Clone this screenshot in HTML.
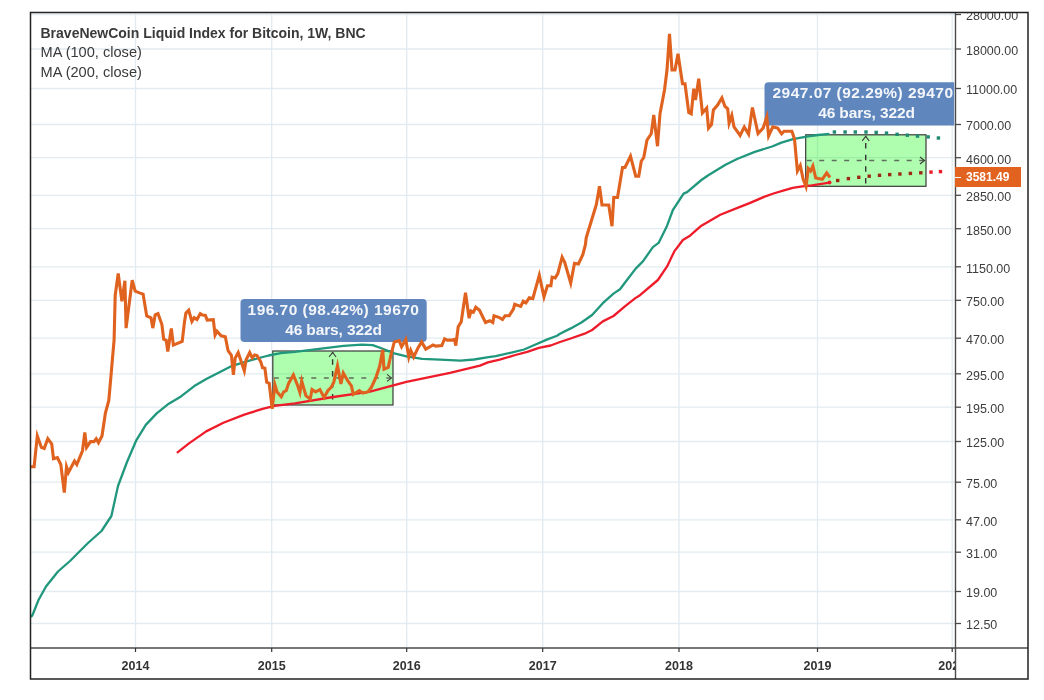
<!DOCTYPE html>
<html><head><meta charset="utf-8"><style>
html,body{margin:0;padding:0;background:#fff;width:1044px;height:700px;overflow:hidden;}
#w{position:relative;width:1044px;height:700px;}
svg{position:absolute;left:0;top:0;}
.pl{position:absolute;left:966px;font:12.5px "Liberation Sans",sans-serif;color:#3d3d3d;line-height:16px;white-space:nowrap;}
#pclip{position:absolute;left:956px;top:13px;width:72px;height:634px;overflow:hidden;}
#pclip .pl{left:10px;}
#yclip{position:absolute;left:31px;top:649px;width:924px;height:29px;overflow:hidden;}
.yl{position:absolute;top:8.5px;width:60px;text-align:center;font:bold 12.5px "Liberation Sans",sans-serif;color:#333;line-height:16px;}
.leg{position:absolute;left:40.5px;font:14.6px "Liberation Sans",sans-serif;color:#3a3a3a;white-space:nowrap;line-height:18px;}
.bl{position:absolute;font:bold 15.5px "Liberation Sans",sans-serif;color:#f4f6fa;white-space:nowrap;text-align:center;line-height:18px;}
#tag{position:absolute;left:955px;top:167px;width:66px;height:20px;background:#e2621f;}
#tag span{position:absolute;left:11px;top:2px;font:bold 12px "Liberation Sans",sans-serif;color:#fff;line-height:16px;}
#tag i{position:absolute;left:0;top:9.5px;width:6px;height:1.3px;background:#fff;}
</style></head><body><div id="w" style="will-change:transform">
<svg width="1044" height="700" viewBox="0 0 1044 700">
<defs><clipPath id="pane"><rect x="31" y="13" width="924" height="635"/></clipPath><clipPath id="lbl2"><rect x="700" y="13" width="254.2" height="200"/></clipPath></defs>
<line x1="31" y1="14.5" x2="955" y2="14.5" stroke="#e1ebf1" stroke-width="1.3"/>
<line x1="31" y1="49.0" x2="955" y2="49.0" stroke="#e1ebf1" stroke-width="1.3"/>
<line x1="31" y1="88.5" x2="955" y2="88.5" stroke="#e1ebf1" stroke-width="1.3"/>
<line x1="31" y1="124.5" x2="955" y2="124.5" stroke="#e1ebf1" stroke-width="1.3"/>
<line x1="31" y1="157.7" x2="955" y2="157.7" stroke="#e1ebf1" stroke-width="1.3"/>
<line x1="31" y1="195.3" x2="955" y2="195.3" stroke="#e1ebf1" stroke-width="1.3"/>
<line x1="31" y1="228.7" x2="955" y2="228.7" stroke="#e1ebf1" stroke-width="1.3"/>
<line x1="31" y1="266.8" x2="955" y2="266.8" stroke="#e1ebf1" stroke-width="1.3"/>
<line x1="31" y1="300.3" x2="955" y2="300.3" stroke="#e1ebf1" stroke-width="1.3"/>
<line x1="31" y1="338.2" x2="955" y2="338.2" stroke="#e1ebf1" stroke-width="1.3"/>
<line x1="31" y1="373.8" x2="955" y2="373.8" stroke="#e1ebf1" stroke-width="1.3"/>
<line x1="31" y1="407.2" x2="955" y2="407.2" stroke="#e1ebf1" stroke-width="1.3"/>
<line x1="31" y1="441.5" x2="955" y2="441.5" stroke="#e1ebf1" stroke-width="1.3"/>
<line x1="31" y1="482.2" x2="955" y2="482.2" stroke="#e1ebf1" stroke-width="1.3"/>
<line x1="31" y1="519.8" x2="955" y2="519.8" stroke="#e1ebf1" stroke-width="1.3"/>
<line x1="31" y1="552.2" x2="955" y2="552.2" stroke="#e1ebf1" stroke-width="1.3"/>
<line x1="31" y1="591.5" x2="955" y2="591.5" stroke="#e1ebf1" stroke-width="1.3"/>
<line x1="31" y1="623.5" x2="955" y2="623.5" stroke="#e1ebf1" stroke-width="1.3"/>
<line x1="135.5" y1="13" x2="135.5" y2="647" stroke="#e1ebf1" stroke-width="1.3"/>
<line x1="271.7" y1="13" x2="271.7" y2="647" stroke="#e1ebf1" stroke-width="1.3"/>
<line x1="406.7" y1="13" x2="406.7" y2="647" stroke="#e1ebf1" stroke-width="1.3"/>
<line x1="542.7" y1="13" x2="542.7" y2="647" stroke="#e1ebf1" stroke-width="1.3"/>
<line x1="679.0" y1="13" x2="679.0" y2="647" stroke="#e1ebf1" stroke-width="1.3"/>
<line x1="817.5" y1="13" x2="817.5" y2="647" stroke="#e1ebf1" stroke-width="1.3"/>
<line x1="952.2" y1="13" x2="952.2" y2="647" stroke="#e1ebf1" stroke-width="1.3"/>
<rect x="272.8" y="351" width="120.19999999999999" height="54" fill="#00fa00" fill-opacity="0.315"/>
<rect x="805.7" y="134.8" width="120.29999999999995" height="51.5" fill="#00fa00" fill-opacity="0.315"/>
<rect x="240.5" y="299" width="186.2" height="42.9" rx="4" fill="#5f87be"/>
<rect x="764.5" y="82.2" width="195" height="43.3" rx="4" fill="#5f87be" clip-path="url(#lbl2)"/>
<rect x="272.8" y="351" width="120.19999999999999" height="54" fill="none" stroke="#3a3a3a" stroke-width="1.2"/>
<line x1="332.6" y1="352" x2="332.6" y2="405" stroke="#333" stroke-width="1.4" stroke-dasharray="5.5,6.1" stroke-dashoffset="4.3"/>
<line x1="273.8" y1="377.9" x2="391" y2="377.9" stroke="#5f6f5f" stroke-width="1.5" stroke-dasharray="5,7.5" stroke-dashoffset="0"/>
<polyline points="387,374.4 391.5,377.9 387,381.4" fill="none" stroke="#3a3a3a" stroke-width="1.1"/>
<polyline points="329.1,357 332.6,352.5 336.1,357" fill="none" stroke="#3a3a3a" stroke-width="1.1"/>
<rect x="805.7" y="134.8" width="120.29999999999995" height="51.5" fill="none" stroke="#3a3a3a" stroke-width="1.2"/>
<line x1="865.7" y1="135.8" x2="865.7" y2="186.3" stroke="#333" stroke-width="1.4" stroke-dasharray="5.5,6.1" stroke-dashoffset="4.3"/>
<line x1="806.7" y1="160.5" x2="924" y2="160.5" stroke="#5f6f5f" stroke-width="1.5" stroke-dasharray="5,7.5" stroke-dashoffset="0"/>
<polyline points="920,157.0 924.5,160.5 920,164.0" fill="none" stroke="#3a3a3a" stroke-width="1.1"/>
<polyline points="862.2,140.8 865.7,136.3 869.2,140.8" fill="none" stroke="#3a3a3a" stroke-width="1.1"/>
<polyline points="31.00,617.00 32.50,615.00 38.50,600.00 46.00,586.50 58.00,571.50 70.00,561.00 88.00,543.00 101.50,531.00 111.40,516.00 118.00,486.00 127.00,462.00 136.10,440.70 145.80,424.90 156.70,413.40 168.80,403.70 181.00,396.40 194.30,386.10 206.30,379.00 220.00,371.90 232.10,365.80 250.30,360.30 268.60,355.50 280.70,353.10 295.00,351.90 325.30,348.20 343.60,345.80 361.80,344.60 372.70,345.20 382.10,348.50 394.30,353.40 406.40,356.40 422.20,358.80 440.00,359.70 460.60,360.70 474.00,359.50 488.60,357.10 495.70,356.10 511.40,352.60 524.00,349.50 535.00,344.80 546.80,339.60 557.00,335.70 560.00,333.70 570.70,328.40 581.40,322.50 592.10,315.00 602.80,303.20 613.50,293.60 620.00,289.30 626.40,280.70 635.70,268.60 642.90,261.40 652.90,247.10 658.60,242.90 667.10,225.70 672.90,210.00 683.60,193.60 687.10,192.10 701.40,180.00 708.30,175.20 725.50,164.80 737.60,158.80 754.80,151.90 772.10,146.50 781.40,142.60 792.90,139.20 806.60,136.70 818.00,135.00 829.50,133.90" fill="none" stroke="#21977d" stroke-width="2.3" stroke-linejoin="round"/>
<polyline points="176.90,452.90 189.00,443.40 206.20,431.40 223.40,422.80 244.30,414.60 262.50,408.90 274.60,405.90 295.00,403.40 330.00,397.50 370.00,391.60 406.40,381.90 450.00,372.80 480.00,365.60 487.90,362.40 499.60,359.70 515.40,355.00 527.20,351.80 538.90,347.90 550.70,345.50 560.00,342.00 570.70,338.50 584.60,333.70 592.10,330.00 602.80,321.40 613.50,316.00 624.30,306.90 635.00,298.40 640.00,295.20 657.90,280.00 667.10,266.40 674.30,251.40 682.90,240.00 690.00,235.70 695.70,230.70 701.40,225.70 710.00,220.70 720.30,214.80 740.00,206.90 749.60,203.10 764.00,196.90 773.50,193.50 783.10,190.70 792.70,187.80 802.30,186.30 811.80,185.40 821.40,183.80 829.50,182.60" fill="none" stroke="#ee1c2a" stroke-width="2.3" stroke-linejoin="round"/>
<polyline points="31.00,466.80 34.10,466.80 37.30,435.90 41.40,447.40 44.20,448.50 47.80,438.70 51.70,443.90 53.50,458.80 57.40,457.60 60.80,464.50 64.30,492.60 66.50,466.80 68.40,472.50 74.50,461.10 76.80,464.50 82.50,450.80 84.80,432.50 86.60,447.40 90.50,441.60 94.00,441.60 96.20,438.70 98.50,442.80 102.00,435.90 105.40,413.10 108.80,400.50 111.10,374.30 114.10,340.00 115.20,295.30 118.20,273.50 121.90,301.40 124.90,280.80 126.10,328.10 132.20,280.20 135.20,291.10 139.50,292.90 143.10,294.10 146.70,316.00 151.00,317.80 152.80,328.10 155.20,314.80 158.00,313.60 161.90,324.50 163.70,339.10 166.20,340.30 167.80,351.60 171.30,328.40 173.40,345.10 182.20,341.40 184.50,321.90 185.90,313.10 188.70,310.30 191.90,321.50 194.20,317.70 197.00,319.60 200.30,313.60 202.60,315.00 205.40,315.40 207.20,320.10 213.30,319.60 215.10,334.90 217.00,331.20 221.10,335.80 225.30,336.80 228.10,350.70 231.40,355.30 233.40,374.90 235.20,357.90 238.20,352.50 244.30,370.70 246.10,359.70 249.70,352.50 252.20,357.90 254.60,354.90 257.00,355.50 260.70,361.60 262.50,367.60 264.90,368.20 266.70,382.20 269.20,383.40 272.20,408.90 274.90,384.60 277.10,391.90 281.30,396.80 283.70,391.90 286.20,390.70 288.60,383.40 293.40,374.90 297.70,385.80 299.90,392.50 301.70,381.00 305.90,395.60 310.20,399.20 312.00,389.50 315.60,391.90 319.90,389.50 324.10,397.40 327.80,390.70 331.40,387.10 333.80,382.20 337.50,365.80 340.90,384.00 343.30,373.10 347.80,381.00 351.40,385.80 353.30,394.30 359.30,390.70 363.00,393.10 367.80,391.90 371.50,387.10 376.10,377.10 379.70,366.10 382.70,349.70 384.00,369.20 388.20,367.30 390.60,356.40 394.30,341.90 399.10,340.60 401.60,346.70 405.80,339.40 408.80,357.00 410.70,350.30 413.70,357.00 418.00,347.90 421.60,341.90 425.80,349.10 433.10,344.90 435.60,346.10 441.80,345.60 444.60,338.90 447.30,340.10 452.10,340.10 454.60,339.50 455.80,345.60 458.20,326.70 461.20,321.90 465.50,292.70 469.10,318.20 471.00,311.00 473.40,312.20 475.80,307.30 479.50,310.30 485.50,322.50 489.80,320.70 492.80,322.50 494.00,315.80 499.50,317.60 502.50,319.50 505.00,315.80 509.20,315.80 513.40,309.10 514.70,304.30 520.70,306.40 523.30,301.20 525.90,302.90 529.30,297.80 532.80,298.60 539.30,275.30 544.00,296.90 547.40,285.70 550.90,285.70 552.10,277.10 555.20,277.90 557.80,273.60 562.10,257.20 564.70,262.40 570.70,283.10 574.50,263.30 578.40,264.10 582.80,254.70 585.30,245.20 586.25,237.50 591.25,221.25 596.25,205.00 599.50,186.25 602.00,205.00 608.75,205.00 612.00,226.25 613.75,197.50 617.50,197.50 622.50,167.50 625.00,167.50 630.50,156.25 635.75,176.25 638.75,176.25 641.25,161.25 643.75,157.50 647.00,140.00 651.25,133.75 653.75,115.00 657.50,146.25 660.00,113.75 664.50,90.00 667.00,70.00 669.50,33.75 672.00,70.00 675.00,70.00 678.00,53.75 682.50,83.75 685.00,83.75 688.75,112.50 691.25,113.75 693.75,88.75 695.50,100.00 698.75,78.75 702.40,113.00 706.70,108.10 708.50,128.10 711.50,124.50 713.40,109.90 717.60,105.10 721.90,97.80 724.90,106.30 727.70,108.70 729.10,123.30 731.80,115.40 734.00,126.90 740.10,135.40 744.30,126.90 748.60,134.20 752.40,107.50 758.00,133.60 763.10,128.10 766.80,117.20 768.60,136.00 772.80,126.90 777.70,128.10 781.60,133.80 784.10,131.20 791.90,131.20 794.50,139.00 797.40,171.00 800.30,165.50 803.10,179.00 806.00,186.50 808.30,168.50 810.60,171.00 812.90,166.00 815.70,178.00 822.40,179.20 826.70,172.90 830.00,177.50" fill="none" stroke="#e0621f" stroke-width="3.1" stroke-linejoin="miter" stroke-miterlimit="5"/>
<rect x="832.7" y="130.3" width="3.4" height="3.4" fill="#1f8a72"/>
<rect x="843.4" y="130.3" width="3.4" height="3.4" fill="#1f8a72"/>
<rect x="853.6" y="130.3" width="3.4" height="3.4" fill="#1f8a72"/>
<rect x="864.3" y="130.3" width="3.4" height="3.4" fill="#1f8a72"/>
<rect x="874.5" y="130.7" width="3.4" height="3.4" fill="#1f8a72"/>
<rect x="884.8" y="131.4" width="3.4" height="3.4" fill="#1f8a72"/>
<rect x="895.4" y="132.6" width="3.4" height="3.4" fill="#1f8a72"/>
<rect x="905.6" y="133.5" width="3.4" height="3.4" fill="#1f8a72"/>
<rect x="915.8" y="134.4" width="3.4" height="3.4" fill="#1f8a72"/>
<rect x="926.5" y="135.2" width="3.4" height="3.4" fill="#1f8a72"/>
<rect x="936.7" y="136.3" width="3.4" height="3.4" fill="#1f8a72"/>
<rect x="836.0" y="178.8" width="3.4" height="3.4" fill="#9c2a12"/>
<rect x="846.7" y="176.9" width="3.4" height="3.4" fill="#9c2a12"/>
<rect x="857.1" y="175.6" width="3.4" height="3.4" fill="#9c2a12"/>
<rect x="867.5" y="174.5" width="3.4" height="3.4" fill="#9c2a12"/>
<rect x="877.8" y="173.6" width="3.4" height="3.4" fill="#9c2a12"/>
<rect x="888.0" y="172.9" width="3.4" height="3.4" fill="#9c2a12"/>
<rect x="898.2" y="172.3" width="3.4" height="3.4" fill="#9c2a12"/>
<rect x="908.7" y="171.7" width="3.4" height="3.4" fill="#9c2a12"/>
<rect x="919.1" y="171.1" width="3.4" height="3.4" fill="#9c2a12"/>
<rect x="929.3" y="170.4" width="3.4" height="3.4" fill="#ee1c2a"/>
<rect x="938.8" y="169.9" width="3.4" height="3.4" fill="#ee1c2a"/>
<circle cx="829.5" cy="182.4" r="2" fill="#ee1c2a"/>
<line x1="955.5" y1="12" x2="955.5" y2="679" stroke="#4a4a4a" stroke-width="1.4"/>
<line x1="30" y1="648" x2="1028" y2="648" stroke="#4a4a4a" stroke-width="1.4"/>
<rect x="30.5" y="12.5" width="997.5" height="666.5" fill="none" stroke="#222" stroke-width="1.5"/>
<line x1="955" y1="14.5" x2="961" y2="14.5" stroke="#4a4a4a" stroke-width="1.3"/>
<line x1="955" y1="49.0" x2="961" y2="49.0" stroke="#4a4a4a" stroke-width="1.3"/>
<line x1="955" y1="88.5" x2="961" y2="88.5" stroke="#4a4a4a" stroke-width="1.3"/>
<line x1="955" y1="124.5" x2="961" y2="124.5" stroke="#4a4a4a" stroke-width="1.3"/>
<line x1="955" y1="157.7" x2="961" y2="157.7" stroke="#4a4a4a" stroke-width="1.3"/>
<line x1="955" y1="195.3" x2="961" y2="195.3" stroke="#4a4a4a" stroke-width="1.3"/>
<line x1="955" y1="228.7" x2="961" y2="228.7" stroke="#4a4a4a" stroke-width="1.3"/>
<line x1="955" y1="266.8" x2="961" y2="266.8" stroke="#4a4a4a" stroke-width="1.3"/>
<line x1="955" y1="300.3" x2="961" y2="300.3" stroke="#4a4a4a" stroke-width="1.3"/>
<line x1="955" y1="338.2" x2="961" y2="338.2" stroke="#4a4a4a" stroke-width="1.3"/>
<line x1="955" y1="373.8" x2="961" y2="373.8" stroke="#4a4a4a" stroke-width="1.3"/>
<line x1="955" y1="407.2" x2="961" y2="407.2" stroke="#4a4a4a" stroke-width="1.3"/>
<line x1="955" y1="441.5" x2="961" y2="441.5" stroke="#4a4a4a" stroke-width="1.3"/>
<line x1="955" y1="482.2" x2="961" y2="482.2" stroke="#4a4a4a" stroke-width="1.3"/>
<line x1="955" y1="519.8" x2="961" y2="519.8" stroke="#4a4a4a" stroke-width="1.3"/>
<line x1="955" y1="552.2" x2="961" y2="552.2" stroke="#4a4a4a" stroke-width="1.3"/>
<line x1="955" y1="591.5" x2="961" y2="591.5" stroke="#4a4a4a" stroke-width="1.3"/>
<line x1="955" y1="623.5" x2="961" y2="623.5" stroke="#4a4a4a" stroke-width="1.3"/>
<line x1="135.5" y1="648" x2="135.5" y2="652" stroke="#333" stroke-width="1.2"/>
<line x1="271.7" y1="648" x2="271.7" y2="652" stroke="#333" stroke-width="1.2"/>
<line x1="406.7" y1="648" x2="406.7" y2="652" stroke="#333" stroke-width="1.2"/>
<line x1="542.7" y1="648" x2="542.7" y2="652" stroke="#333" stroke-width="1.2"/>
<line x1="679.0" y1="648" x2="679.0" y2="652" stroke="#333" stroke-width="1.2"/>
<line x1="817.5" y1="648" x2="817.5" y2="652" stroke="#333" stroke-width="1.2"/>
<line x1="952.2" y1="648" x2="952.2" y2="652" stroke="#333" stroke-width="1.2"/>
</svg>
<div class="leg" style="top:23.5px;font-weight:bold;font-size:14px">BraveNewCoin Liquid Index for Bitcoin, 1W, BNC</div>
<div class="leg" style="top:43px">MA (100, close)</div>
<div class="leg" style="top:63px">MA (200, close)</div>
<div class="bl" style="left:240.5px;top:301.3px;width:186px;letter-spacing:0.47px">196.70 (98.42%) 19670</div>
<div class="bl" style="left:240.5px;top:321.2px;width:186px;letter-spacing:-0.12px">46 bars, 322d</div>
<div style="position:absolute;left:764.5px;top:82px;width:189.7px;height:44px;overflow:hidden">
<div class="bl" style="left:8px;top:2.3px;text-align:left;letter-spacing:0.47px">2947.07 (92.29%) 294707</div>
<div class="bl" style="left:0;top:22.2px;width:204px;letter-spacing:-0.12px">46 bars, 322d</div>
</div>
<div id="pclip">
<div class="pl" style="top:-4.7px">28000.00</div>
<div class="pl" style="top:29.8px">18000.00</div>
<div class="pl" style="top:69.3px">11000.00</div>
<div class="pl" style="top:105.3px">7000.00</div>
<div class="pl" style="top:138.5px">4600.00</div>
<div class="pl" style="top:176.1px">2850.00</div>
<div class="pl" style="top:209.5px">1850.00</div>
<div class="pl" style="top:247.6px">1150.00</div>
<div class="pl" style="top:281.1px">750.00</div>
<div class="pl" style="top:319.0px">470.00</div>
<div class="pl" style="top:354.6px">295.00</div>
<div class="pl" style="top:388.0px">195.00</div>
<div class="pl" style="top:422.3px">125.00</div>
<div class="pl" style="top:463.0px">75.00</div>
<div class="pl" style="top:500.6px">47.00</div>
<div class="pl" style="top:533.0px">31.00</div>
<div class="pl" style="top:572.3px">19.00</div>
<div class="pl" style="top:604.3px">12.50</div>
</div>
<div id="yclip">
<div class="yl" style="left:74.5px">2014</div>
<div class="yl" style="left:210.7px">2015</div>
<div class="yl" style="left:345.7px">2016</div>
<div class="yl" style="left:481.7px">2017</div>
<div class="yl" style="left:618.0px">2018</div>
<div class="yl" style="left:756.5px">2019</div>
<div class="yl" style="left:891.2px">2020</div>
</div>
<div id="tag"><i></i><span>3581.49</span></div>
</div></body></html>
